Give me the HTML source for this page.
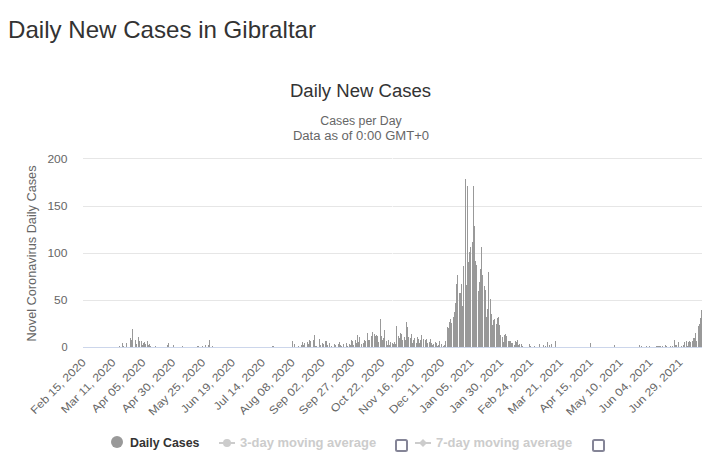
<!DOCTYPE html><html><head><meta charset="utf-8"><style>
html,body{margin:0;padding:0;background:#fff;width:725px;height:459px;overflow:hidden}
svg{position:absolute;left:0;top:0}
text{font-family:"Liberation Sans",sans-serif}
</style></head><body>
<svg width="725" height="459" viewBox="0 0 725 459">
<text x="8" y="38" font-size="24" fill="#333" textLength="308" lengthAdjust="spacingAndGlyphs">Daily New Cases in Gibraltar</text>
<text x="360.5" y="97" font-size="18" fill="#333" text-anchor="middle" textLength="141.1" lengthAdjust="spacingAndGlyphs">Daily New Cases</text>
<text x="361" y="124.7" font-size="12" fill="#666" text-anchor="middle" textLength="81.4" lengthAdjust="spacingAndGlyphs">Cases per Day</text>
<text x="361" y="140" font-size="12" fill="#666" text-anchor="middle" textLength="136.2" lengthAdjust="spacingAndGlyphs">Data as of 0:00 GMT+0</text>
<rect x="83" y="158" width="619" height="1" fill="#e6e6e6"/><rect x="392" y="158" width="1" height="1" fill="#f6f6f6"/>
<rect x="83" y="206" width="619" height="1" fill="#e6e6e6"/><rect x="392" y="206" width="1" height="1" fill="#f6f6f6"/>
<rect x="83" y="253" width="619" height="1" fill="#e6e6e6"/><rect x="392" y="253" width="1" height="1" fill="#f6f6f6"/>
<rect x="83" y="300" width="619" height="1" fill="#e6e6e6"/><rect x="392" y="300" width="1" height="1" fill="#f6f6f6"/>
<rect x="83" y="347" width="619" height="1" fill="#ccd6eb"/>
<text x="67.5" y="163" font-size="11" fill="#666" text-anchor="end" textLength="20.1" lengthAdjust="spacingAndGlyphs">200</text>
<text x="67.5" y="210" font-size="11" fill="#666" text-anchor="end" textLength="20.1" lengthAdjust="spacingAndGlyphs">150</text>
<text x="67.5" y="257" font-size="11" fill="#666" text-anchor="end" textLength="20.1" lengthAdjust="spacingAndGlyphs">100</text>
<text x="67.5" y="304" font-size="11" fill="#666" text-anchor="end" textLength="13.4" lengthAdjust="spacingAndGlyphs">50</text>
<text x="67.5" y="351" font-size="11" fill="#666" text-anchor="end" textLength="6.125" lengthAdjust="spacingAndGlyphs">0</text>
<text transform="translate(35.6,253.5) rotate(-90)" font-size="12" fill="#666" text-anchor="middle" textLength="176" lengthAdjust="spacingAndGlyphs">Novel Coronavirus Daily Cases</text>
<path fill="#999" shape-rendering="crispEdges" d="M119 346h1v1h-1zM122 343h1v4h-1zM123 346h1v1h-1zM126 343h1v4h-1zM130 338h1v9h-1zM131 340h1v7h-1zM132 329h1v18h-1zM135 340h1v7h-1zM136 344h1v3h-1zM138 337h1v10h-1zM139 341h1v6h-1zM141 341h1v6h-1zM142 345h1v2h-1zM143 343h1v4h-1zM144 342h1v5h-1zM145 344h1v3h-1zM147 341h1v6h-1zM148 345h1v2h-1zM149 344h1v3h-1zM150 346h1v1h-1zM155 346h1v1h-1zM167 345h1v2h-1zM168 343h1v4h-1zM173 345h1v2h-1zM182 346h1v1h-1zM197 346h1v1h-1zM198 346h1v1h-1zM202 346h1v1h-1zM205 345h1v2h-1zM208 345h1v2h-1zM209 340h1v7h-1zM212 346h1v1h-1zM272 346h1v1h-1zM273 346h1v1h-1zM292 341h1v6h-1zM294 344h1v3h-1zM298 346h1v1h-1zM301 345h1v2h-1zM302 342h1v5h-1zM303 345h1v2h-1zM304 343h1v4h-1zM307 342h1v5h-1zM308 344h1v3h-1zM309 340h1v7h-1zM310 341h1v6h-1zM313 340h1v7h-1zM314 335h1v12h-1zM315 346h1v1h-1zM316 346h1v1h-1zM319 339h1v8h-1zM320 345h1v2h-1zM322 343h1v4h-1zM323 344h1v3h-1zM325 341h1v6h-1zM326 341h1v6h-1zM327 345h1v2h-1zM329 343h1v4h-1zM331 346h1v1h-1zM334 344h1v3h-1zM335 345h1v2h-1zM338 344h1v3h-1zM339 342h1v5h-1zM340 345h1v2h-1zM341 346h1v1h-1zM343 344h1v3h-1zM346 343h1v4h-1zM347 346h1v1h-1zM349 344h1v3h-1zM350 345h1v2h-1zM351 340h1v7h-1zM352 341h1v6h-1zM353 345h1v2h-1zM355 340h1v7h-1zM356 343h1v4h-1zM357 335h1v12h-1zM358 342h1v5h-1zM359 337h1v10h-1zM361 344h1v3h-1zM363 343h1v4h-1zM364 340h1v7h-1zM365 341h1v6h-1zM367 333h1v14h-1zM368 340h1v7h-1zM369 340h1v7h-1zM371 336h1v11h-1zM372 332h1v15h-1zM374 334h1v13h-1zM375 336h1v11h-1zM376 335h1v12h-1zM377 336h1v11h-1zM378 342h1v5h-1zM380 319h1v28h-1zM381 336h1v11h-1zM382 340h1v7h-1zM383 338h1v9h-1zM384 330h1v17h-1zM386 341h1v6h-1zM387 345h1v2h-1zM388 340h1v7h-1zM389 345h1v2h-1zM390 342h1v5h-1zM392 343h1v4h-1zM393 344h1v3h-1zM394 342h1v5h-1zM395 344h1v3h-1zM396 326h1v21h-1zM398 336h1v11h-1zM399 338h1v9h-1zM400 333h1v14h-1zM401 334h1v13h-1zM402 340h1v7h-1zM404 337h1v10h-1zM405 340h1v7h-1zM406 322h1v25h-1zM407 327h1v20h-1zM408 337h1v10h-1zM410 338h1v9h-1zM411 334h1v13h-1zM412 343h1v4h-1zM413 340h1v7h-1zM414 338h1v9h-1zM416 343h1v4h-1zM417 337h1v10h-1zM418 339h1v8h-1zM419 343h1v4h-1zM420 340h1v7h-1zM421 335h1v12h-1zM423 339h1v8h-1zM425 340h1v7h-1zM426 339h1v8h-1zM427 343h1v4h-1zM429 342h1v5h-1zM430 339h1v8h-1zM431 343h1v4h-1zM432 345h1v2h-1zM433 344h1v3h-1zM435 342h1v5h-1zM436 343h1v4h-1zM437 346h1v1h-1zM438 345h1v2h-1zM439 341h1v6h-1zM441 344h1v3h-1zM443 346h1v1h-1zM444 345h1v2h-1zM445 341h1v6h-1zM447 327h1v20h-1zM448 328h1v19h-1zM449 322h1v25h-1zM450 319h1v28h-1zM451 323h1v24h-1zM453 317h1v30h-1zM454 312h1v35h-1zM455 303h1v44h-1zM456 284h1v63h-1zM457 275h1v72h-1zM459 293h1v54h-1zM460 293h1v54h-1zM461 284h1v63h-1zM462 306h1v41h-1zM463 266h1v81h-1zM465 179h1v168h-1zM466 285h1v62h-1zM467 186h1v161h-1zM468 262h1v85h-1zM469 252h1v95h-1zM470 247h1v100h-1zM472 242h1v105h-1zM473 186h1v161h-1zM474 226h1v121h-1zM475 261h1v86h-1zM476 265h1v82h-1zM478 291h1v56h-1zM479 282h1v65h-1zM480 269h1v78h-1zM481 247h1v100h-1zM482 275h1v72h-1zM484 286h1v61h-1zM485 290h1v57h-1zM486 317h1v30h-1zM487 309h1v38h-1zM488 272h1v75h-1zM490 299h1v48h-1zM491 314h1v33h-1zM492 325h1v22h-1zM493 320h1v27h-1zM494 319h1v28h-1zM496 324h1v23h-1zM497 318h1v29h-1zM498 317h1v30h-1zM499 325h1v22h-1zM500 335h1v12h-1zM502 337h1v10h-1zM503 342h1v5h-1zM504 335h1v12h-1zM505 334h1v13h-1zM506 336h1v11h-1zM508 341h1v6h-1zM509 341h1v6h-1zM510 341h1v6h-1zM511 343h1v4h-1zM512 343h1v4h-1zM514 345h1v2h-1zM515 341h1v6h-1zM516 342h1v5h-1zM517 340h1v7h-1zM518 345h1v2h-1zM519 344h1v3h-1zM521 344h1v3h-1zM522 346h1v1h-1zM529 344h1v3h-1zM530 346h1v1h-1zM534 346h1v1h-1zM539 344h1v3h-1zM543 345h1v2h-1zM545 346h1v1h-1zM547 342h1v5h-1zM549 345h1v2h-1zM551 344h1v3h-1zM555 341h1v6h-1zM590 343h1v4h-1zM614 345h1v2h-1zM639 345h1v2h-1zM641 346h1v1h-1zM646 346h1v1h-1zM649 346h1v1h-1zM656 346h1v1h-1zM657 346h1v1h-1zM658 346h1v1h-1zM659 346h1v1h-1zM660 346h1v1h-1zM662 346h1v1h-1zM665 345h1v2h-1zM666 346h1v1h-1zM670 346h1v1h-1zM672 346h1v1h-1zM674 340h1v7h-1zM675 345h1v2h-1zM676 345h1v2h-1zM678 342h1v5h-1zM681 346h1v1h-1zM683 345h1v2h-1zM684 342h1v5h-1zM686 341h1v6h-1zM687 346h1v1h-1zM688 342h1v5h-1zM689 341h1v6h-1zM690 342h1v5h-1zM692 341h1v6h-1zM693 338h1v9h-1zM694 338h1v9h-1zM695 333h1v14h-1zM696 341h1v6h-1zM698 326h1v21h-1zM699 324h1v23h-1zM700 318h1v29h-1zM701 310h1v37h-1z"/>
<text transform="translate(86.60,363) rotate(-45)" font-size="11" fill="#666" text-anchor="end" textLength="73.14" lengthAdjust="spacingAndGlyphs">Feb 15, 2020</text>
<text transform="translate(116.47,363) rotate(-45)" font-size="11" fill="#666" text-anchor="end" textLength="72.21" lengthAdjust="spacingAndGlyphs">Mar 11, 2020</text>
<text transform="translate(146.35,363) rotate(-45)" font-size="11" fill="#666" text-anchor="end" textLength="71.06" lengthAdjust="spacingAndGlyphs">Apr 05, 2020</text>
<text transform="translate(176.22,363) rotate(-45)" font-size="11" fill="#666" text-anchor="end" textLength="71.06" lengthAdjust="spacingAndGlyphs">Apr 30, 2020</text>
<text transform="translate(206.10,363) rotate(-45)" font-size="11" fill="#666" text-anchor="end" textLength="75.19" lengthAdjust="spacingAndGlyphs">May 25, 2020</text>
<text transform="translate(235.97,363) rotate(-45)" font-size="11" fill="#666" text-anchor="end" textLength="71.77" lengthAdjust="spacingAndGlyphs">Jun 19, 2020</text>
<text transform="translate(265.84,363) rotate(-45)" font-size="11" fill="#666" text-anchor="end" textLength="67.61" lengthAdjust="spacingAndGlyphs">Jul 14, 2020</text>
<text transform="translate(295.72,363) rotate(-45)" font-size="11" fill="#666" text-anchor="end" textLength="73.83" lengthAdjust="spacingAndGlyphs">Aug 08, 2020</text>
<text transform="translate(325.59,363) rotate(-45)" font-size="11" fill="#666" text-anchor="end" textLength="73.83" lengthAdjust="spacingAndGlyphs">Sep 02, 2020</text>
<text transform="translate(355.47,363) rotate(-45)" font-size="11" fill="#666" text-anchor="end" textLength="73.83" lengthAdjust="spacingAndGlyphs">Sep 27, 2020</text>
<text transform="translate(385.34,363) rotate(-45)" font-size="11" fill="#666" text-anchor="end" textLength="71.06" lengthAdjust="spacingAndGlyphs">Oct 22, 2020</text>
<text transform="translate(415.22,363) rotate(-45)" font-size="11" fill="#666" text-anchor="end" textLength="73.81" lengthAdjust="spacingAndGlyphs">Nov 16, 2020</text>
<text transform="translate(445.09,363) rotate(-45)" font-size="11" fill="#666" text-anchor="end" textLength="72.90" lengthAdjust="spacingAndGlyphs">Dec 11, 2020</text>
<text transform="translate(474.27,363) rotate(-45)" font-size="11" fill="#666" text-anchor="end" textLength="71.77" lengthAdjust="spacingAndGlyphs">Jan 05, 2021</text>
<text transform="translate(504.14,363) rotate(-45)" font-size="11" fill="#666" text-anchor="end" textLength="71.77" lengthAdjust="spacingAndGlyphs">Jan 30, 2021</text>
<text transform="translate(534.02,363) rotate(-45)" font-size="11" fill="#666" text-anchor="end" textLength="73.14" lengthAdjust="spacingAndGlyphs">Feb 24, 2021</text>
<text transform="translate(563.89,363) rotate(-45)" font-size="11" fill="#666" text-anchor="end" textLength="73.13" lengthAdjust="spacingAndGlyphs">Mar 21, 2021</text>
<text transform="translate(593.76,363) rotate(-45)" font-size="11" fill="#666" text-anchor="end" textLength="71.06" lengthAdjust="spacingAndGlyphs">Apr 15, 2021</text>
<text transform="translate(623.64,363) rotate(-45)" font-size="11" fill="#666" text-anchor="end" textLength="75.19" lengthAdjust="spacingAndGlyphs">May 10, 2021</text>
<text transform="translate(653.51,363) rotate(-45)" font-size="11" fill="#666" text-anchor="end" textLength="71.77" lengthAdjust="spacingAndGlyphs">Jun 04, 2021</text>
<text transform="translate(683.39,363) rotate(-45)" font-size="11" fill="#666" text-anchor="end" textLength="71.77" lengthAdjust="spacingAndGlyphs">Jun 29, 2021</text>
<circle cx="117" cy="442" r="6" fill="#999"/>
<text x="130" y="447" font-size="12" font-weight="bold" fill="#333" textLength="69.4" lengthAdjust="spacingAndGlyphs">Daily Cases</text>
<rect x="219" y="442" width="16" height="2" fill="#ccc"/><circle cx="227" cy="443" r="4" fill="#ccc"/>
<text x="240" y="447" font-size="12" font-weight="bold" fill="#ccc" textLength="136.1" lengthAdjust="spacingAndGlyphs">3-day moving average</text>
<rect x="396" y="440" width="11" height="11" rx="1.5" fill="none" stroke="#858597" stroke-width="2"/>
<rect x="415" y="442" width="16" height="2" fill="#ccc"/><path d="M423 439l4 4-4 4-4-4z" fill="#ccc"/>
<text x="436" y="447" font-size="12" font-weight="bold" fill="#ccc" textLength="136.1" lengthAdjust="spacingAndGlyphs">7-day moving average</text>
<rect x="593" y="440" width="11" height="11" rx="1.5" fill="none" stroke="#858597" stroke-width="2"/>
</svg></body></html>
